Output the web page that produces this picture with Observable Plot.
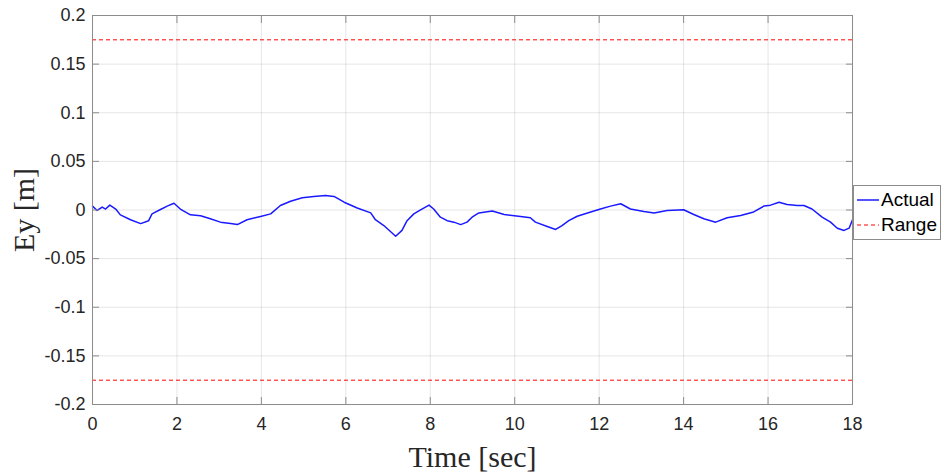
<!DOCTYPE html>
<html>
<head>
<meta charset="utf-8">
<script src="https://cdn.jsdelivr.net/npm/d3@7"></script>
<script src="https://cdn.jsdelivr.net/npm/@observablehq/plot@0.6"></script>
<style>
  html, body { margin: 0; padding: 0; background: white; }
  #wrap { position: relative; width: 944px; height: 474px; }
  #legend { position: absolute; left: 853px; top: 185px; width: 88px; height: 55px;
    border: 1px solid #8c8c8c; background: white; box-sizing: border-box;
    font-family: "Liberation Sans", Arial, sans-serif; font-size: 19px; color: #000; }
  .row { position: absolute; left: 0; height: 24px; display: flex; align-items: center; }
  .row span { margin-left: 1px; }
</style>
</head>
<body>
<div id="wrap"></div>
<script>
const time = [0,0.11,0.23,0.31,0.41,0.55,0.66,0.9,1.14,1.33,1.41,1.61,1.77,1.93,2.08,2.32,2.56,2.79,3.03,3.27,3.43,3.66,3.98,4.22,4.45,4.69,4.97,5.24,5.52,5.72,5.96,6.27,6.59,6.70,6.90,7.18,7.33,7.45,7.61,7.77,7.97,8.08,8.24,8.40,8.56,8.72,8.87,8.99,9.15,9.47,9.75,10.14,10.37,10.49,10.77,10.97,11.12,11.28,11.48,11.80,12.03,12.27,12.51,12.74,13.06,13.30,13.61,14.0,14.24,14.48,14.76,15.03,15.35,15.66,15.90,16.06,16.26,16.45,16.69,16.85,17.04,17.28,17.48,17.64,17.8,17.92,18.0];
const ey = [0.004,-0.0005,0.003,0.001,0.005,0.001,-0.005,-0.010,-0.014,-0.011,-0.004,0.0005,0.004,0.007,0.001,-0.005,-0.006,-0.009,-0.0125,-0.014,-0.015,-0.010,-0.0067,-0.004,0.0046,0.009,0.0125,0.014,0.015,0.014,0.008,0.002,-0.003,-0.010,-0.016,-0.027,-0.021,-0.011,-0.004,0.0002,0.005,0.001,-0.0074,-0.011,-0.0125,-0.015,-0.0125,-0.0074,-0.003,-0.001,-0.0046,-0.0067,-0.008,-0.0125,-0.017,-0.020,-0.016,-0.011,-0.0064,-0.002,0.001,0.004,0.0064,0.001,-0.0015,-0.003,-0.0005,0.0002,-0.0046,-0.009,-0.0125,-0.008,-0.0057,-0.002,0.004,0.005,0.008,0.0057,0.0046,0.0046,0.001,-0.0074,-0.0125,-0.0187,-0.021,-0.0187,-0.010];
const rangeLevels = [0.175, -0.175];
const xTicks = [0,2,4,6,8,10,12,14,16,18];
const yTicks = [-0.2,-0.15,-0.1,-0.05,0,0.05,0.1,0.15,0.2];
const seriesNames = ["Actual", "Range"];
const xLabel = "Time [sec]";
const yLabel = "Ey [m]";

const data = time.map((t, i) => ({t, v: ey[i]}));
const axisColor = "#8c8c8c";
const fmt = d => String(d);
const serif = "'Liberation Serif', 'Times New Roman', serif";

const chart = Plot.plot({
  width: 944, height: 474,
  marginLeft: 92, marginRight: 92, marginTop: 15, marginBottom: 70,
  x: {domain: [0, 18]},
  y: {domain: [-0.2, 0.2]},
  style: {fontFamily: "'Liberation Sans', Arial, sans-serif", fontSize: "18px", color: "#262626", background: "white"},
  marks: [
    Plot.gridX(xTicks, {stroke: "#000", strokeOpacity: 0.1}),
    Plot.gridY(yTicks, {stroke: "#000", strokeOpacity: 0.1}),
    Plot.ruleY(rangeLevels, {stroke: "#ff0000", strokeWidth: 1, strokeDasharray: "4,3"}),
    Plot.line(data, {x: "t", y: "v", stroke: "#1a1aff", strokeWidth: 1.5}),
    Plot.frame({stroke: axisColor}),
    Plot.axisX(xTicks, {anchor: "bottom", tickSize: 0, tickPadding: 13, label: null, tickFormat: fmt, fill: "#262626"}),
    Plot.axisX(xTicks, {anchor: "bottom", tickSize: -7, text: null, label: null, stroke: axisColor}),
    Plot.axisX(xTicks, {anchor: "top", tickSize: -7, text: null, label: null, stroke: axisColor}),
    Plot.axisY(yTicks, {anchor: "left", tickSize: 0, tickPadding: 7, label: null, tickFormat: fmt, fill: "#262626"}),
    Plot.axisY(yTicks, {anchor: "left", tickSize: -7, text: null, label: null, stroke: axisColor}),
    Plot.axisY(yTicks, {anchor: "right", tickSize: -7, text: null, label: null, stroke: axisColor}),
    Plot.text([xLabel], {frameAnchor: "bottom", textAnchor: "middle", lineAnchor: "middle", dy: 53, fontFamily: serif, fontSize: 30, fill: "#262626"}),
    Plot.text([yLabel], {frameAnchor: "left", textAnchor: "middle", lineAnchor: "middle", dx: -68, rotate: -90, fontFamily: serif, fontSize: 30, fill: "#262626"})
  ]
});
const wrap = document.getElementById("wrap");
wrap.appendChild(chart);

const legend = document.createElement("div");
legend.id = "legend";
const styles = [{color: "#1a1aff", dash: "none", w: 1.5}, {color: "#ff0000", dash: "4,3", w: 1}];
seriesNames.forEach((name, i) => {
  const row = document.createElement("div");
  row.className = "row";
  row.style.top = (2 + i * 25) + "px";
  row.innerHTML = `<svg width="25" height="10" style="margin-left:1px"><line x1="2" y1="5" x2="24" y2="5" stroke="${styles[i].color}" stroke-width="${styles[i].w}" stroke-dasharray="${styles[i].dash}"/></svg><span>${name}</span>`;
  legend.appendChild(row);
});
wrap.appendChild(legend);
</script>
</body>
</html>
